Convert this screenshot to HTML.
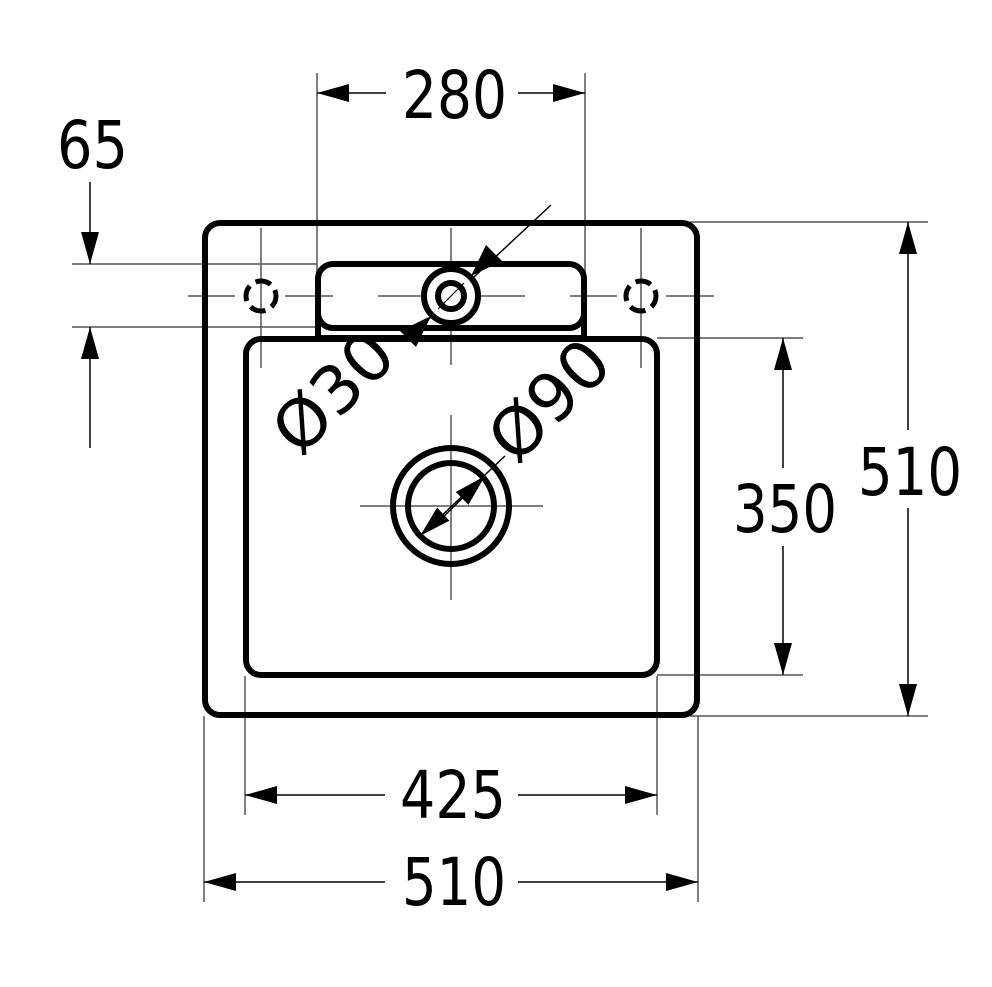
<!DOCTYPE html>
<html><head><meta charset="utf-8"><style>
html,body{margin:0;padding:0;background:#fff;}
svg{display:block;}
text{font-family:"DejaVu Sans","Liberation Sans",sans-serif;font-size:66px;fill:#000;}
</style></head><body>
<svg width="992" height="987" viewBox="0 0 992 987" xmlns="http://www.w3.org/2000/svg">
<defs>
<marker id="a" viewBox="0 0 32 18" refX="32" refY="9" markerWidth="32" markerHeight="18" markerUnits="userSpaceOnUse" orient="auto"><path d="M0,0 L32,9 L0,18 Z" fill="#000"/></marker>
</defs>
<g stroke="#555" stroke-width="1.5" fill="none">
<line x1="317" y1="73" x2="317" y2="340"/>
<line x1="585" y1="73" x2="585" y2="340"/>
<line x1="72" y1="264" x2="317" y2="264"/>
<line x1="72" y1="327" x2="317" y2="327"/>
<line x1="690" y1="222" x2="928" y2="222"/>
<line x1="690" y1="716" x2="928" y2="716"/>
<line x1="657" y1="338" x2="803" y2="338"/>
<line x1="657" y1="675" x2="803" y2="675"/>
<line x1="245" y1="676" x2="245" y2="815"/>
<line x1="657" y1="676" x2="657" y2="815"/>
<line x1="204" y1="716" x2="204" y2="902"/>
<line x1="698" y1="716" x2="698" y2="902"/>
<line x1="451" y1="228" x2="451" y2="365"/>
<line x1="451" y1="415" x2="451" y2="600"/>
<line x1="261" y1="228" x2="261" y2="368"/>
<line x1="641" y1="228" x2="641" y2="368"/>
<line x1="188" y1="296" x2="235" y2="296"/>
<line x1="285" y1="296" x2="333" y2="296"/>
<line x1="378" y1="296" x2="525" y2="296"/>
<line x1="570" y1="296" x2="617" y2="296"/>
<line x1="666" y1="296" x2="714" y2="296"/>
<line x1="360" y1="506" x2="543" y2="506"/>
</g>
<g stroke="#000" stroke-width="1.5" fill="none">
<line x1="386" y1="93" x2="317" y2="93" marker-end="url(#a)"/>
<line x1="518" y1="93" x2="585" y2="93" marker-end="url(#a)"/>
<line x1="90" y1="182" x2="90" y2="264" marker-end="url(#a)"/>
<line x1="90" y1="448" x2="90" y2="327" marker-end="url(#a)"/>
<line x1="908" y1="430" x2="908" y2="222" marker-end="url(#a)"/>
<line x1="908" y1="508" x2="908" y2="716" marker-end="url(#a)"/>
<line x1="783" y1="468" x2="783" y2="338" marker-end="url(#a)"/>
<line x1="783" y1="546" x2="783" y2="675" marker-end="url(#a)"/>
<line x1="385" y1="795" x2="245" y2="795" marker-end="url(#a)"/>
<line x1="518" y1="795" x2="657" y2="795" marker-end="url(#a)"/>
<line x1="385" y1="882" x2="204" y2="882" marker-end="url(#a)"/>
<line x1="518" y1="882" x2="698" y2="882" marker-end="url(#a)"/>
<line x1="551" y1="205" x2="415" y2="332"/>
<line x1="505" y1="456" x2="420" y2="536" marker-end="url(#a)"/>
<line x1="440" y1="520" x2="485" y2="476" marker-end="url(#a)"/>
</g>
<g stroke="#000" stroke-width="6" fill="none">
<rect x="205" y="223" width="492" height="492" rx="15"/>
<rect x="246" y="339" width="411" height="336" rx="15"/>
<rect x="318" y="264" width="266" height="64" rx="15"/>
<line x1="318" y1="300" x2="318" y2="339"/>
<line x1="584" y1="300" x2="584" y2="339"/>
<line x1="318" y1="338" x2="584" y2="338"/>
<circle cx="451" cy="296" r="27" fill="#fff"/>
<circle cx="451" cy="296" r="13"/>
<circle cx="261" cy="296" r="15" stroke-width="5" stroke-dasharray="16 7" stroke-dashoffset="4"/>
<circle cx="641" cy="296" r="15" stroke-width="5" stroke-dasharray="16 7" stroke-dashoffset="4"/>
<circle cx="451" cy="506" r="58"/>
<circle cx="451" cy="506" r="43"/>
</g>
<line x1="438" y1="309" x2="464" y2="283" stroke="#000" stroke-width="1.2"/>
<polygon points="471,276 502,261 486,245" fill="#000"/>
<polygon points="431,316 400,331 416,347" fill="#000"/>
<text x="402" y="118" textLength="105" lengthAdjust="spacingAndGlyphs">280</text>
<text x="57" y="168" textLength="71" lengthAdjust="spacingAndGlyphs">65</text>
<text x="858" y="495" textLength="104" lengthAdjust="spacingAndGlyphs">510</text>
<text x="733" y="532" textLength="104" lengthAdjust="spacingAndGlyphs">350</text>
<text x="400" y="818" textLength="106" lengthAdjust="spacingAndGlyphs">425</text>
<text x="402" y="905" textLength="104" lengthAdjust="spacingAndGlyphs">510</text>
<text x="0" y="0" transform="translate(300,458) rotate(-45)" textLength="140" lengthAdjust="spacingAndGlyphs">Ø30</text>
<text x="0" y="0" transform="translate(516,466) rotate(-45)" textLength="140" lengthAdjust="spacingAndGlyphs">Ø90</text>
</svg>
</body></html>
